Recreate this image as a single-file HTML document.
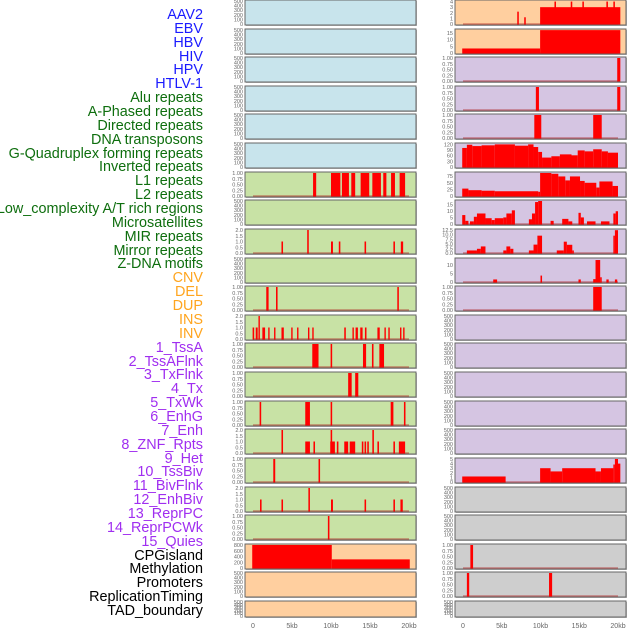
<!DOCTYPE html>
<html><head><meta charset="utf-8">
<style>
html,body{margin:0;padding:0;background:#fff;}
#wrap{position:relative;width:630px;height:630px;overflow:hidden;font-family:"Liberation Sans",sans-serif;}
.lbl{position:absolute;right:427px;font-size:14.4px;line-height:14px;white-space:nowrap;}
svg{position:absolute;left:0;top:0;}
</style></head>
<body>
<div id="wrap">
<svg id="chart" width="630" height="630"></svg>
</div>
<script>
// ---- data ----
const labelNames = ["AAV2","EBV","HBV","HIV","HPV","HTLV-1","Alu repeats","A-Phased repeats","Directed repeats","DNA transposons","G-Quadruplex forming repeats","Inverted repeats","L1 repeats","L2 repeats","Low_complexity A/T rich regions","Microsatellites","MIR repeats","Mirror repeats","Z-DNA motifs","CNV","DEL","DUP","INS","INV","1_TssA","2_TssAFlnk","3_TxFlnk","4_Tx","5_TxWk","6_EnhG","7_Enh","8_ZNF_Rpts","9_Het","10_TssBiv","11_BivFlnk","12_EnhBiv","13_ReprPC","14_ReprPCWk","15_Quies","CPGisland","Methylation","Promoters","ReplicationTiming","TAD_boundary"];
const labelColors = ["#1a1aff","#1a1aff","#1a1aff","#1a1aff","#1a1aff","#1a1aff","#0e6e0e","#0e6e0e","#0e6e0e","#0e6e0e","#0e6e0e","#0e6e0e","#0e6e0e","#0e6e0e","#0e6e0e","#0e6e0e","#0e6e0e","#0e6e0e","#0e6e0e","#ffa51f","#ffa51f","#ffa51f","#ffa51f","#ffa51f","#a02ef0","#a02ef0","#a02ef0","#a02ef0","#a02ef0","#a02ef0","#a02ef0","#a02ef0","#a02ef0","#a02ef0","#a02ef0","#a02ef0","#a02ef0","#a02ef0","#a02ef0","#000","#000","#000","#000","#000"];
const xTicks = [0,5,10,15,20];
const xTickLabels = ["0","5kb","10kb","15kb","20kb"];

const T500 = ["0","100","200","300","400","500"];
const T1 = ["0.00","0.25","0.50","0.75","1.00"];
const T2 = ["0.0","0.5","1.0","1.5","2.0"];

// bars: [startKb, endKb, value]
const L6 = [[7.7,8.1,1],[10.0,11.2,1],[11.4,12.3,1],[12.6,13.1,1],[13.8,14.9,1],[15.3,16.4,1],[16.7,17.1,1],[17.7,18.2,1],[18.8,19.5,1]];
const L8 = [[3.65,3.85,1],[6.95,7.15,2],[10.0,10.25,1],[11.0,11.2,1],[14.3,14.5,1],[18.0,18.2,1],[18.95,19.25,1]];
const L10 = [[1.7,2.0,1],[2.95,3.15,1],[18.5,18.7,1]];
const L11 = [[-0.05,0.15,1],[0.35,0.6,1],[0.7,0.85,2],[1.2,1.55,1],[1.95,2.1,1],[2.7,2.85,1],[3.65,3.95,1],[4.9,5.05,1],[5.65,5.8,1],[7.05,7.2,1],[7.6,7.75,1],[11.7,11.9,1],[12.75,12.9,1],[13.15,13.45,1],[13.75,14.05,1],[14.35,14.55,1],[15.95,16.25,1],[16.85,17.0,1],[17.35,17.5,1],[18.85,19.0,1],[19.25,19.4,1]];
const L12 = [[7.6,8.4,1],[9.95,10.15,1],[14.1,14.5,1],[15.25,15.45,1],[16.2,16.8,1]];
const L13 = [[12.2,12.65,1],[13.1,13.5,1]];
const L14 = [[0.85,1.05,1],[6.7,7.3,1],[9.95,10.15,1],[17.65,18.0,1],[19.35,19.55,1]];
const L15 = [[3.65,3.85,2],[6.7,7.3,1],[7.75,7.95,1],[9.9,10.5,1],[9.95,10.15,2],[10.75,10.95,1],[11.7,12.2,1],[12.4,13.1,1],[13.95,14.15,1],[14.3,14.5,1],[14.65,14.85,1],[15.3,15.5,2],[15.95,16.15,1],[18.0,18.2,1],[18.7,19.5,1]];
const L16 = [[2.6,2.85,1],[8.4,8.6,1]];
const L17 = [[0.9,1.1,1],[3.65,3.85,1],[7.1,7.3,2],[10.0,10.25,1],[14.3,14.5,1],[18.0,18.2,1],[18.9,19.2,1]];
const L18 = [[9.6,9.8,1]];
const L19 = [[-0.1,10.1,800],[10.1,20.1,300]];

const R0 = [[7.0,7.2,2.2],[7.9,8.1,1.2],[9.95,20.3,3],[11.8,12.0,4],[13.9,14.1,4],[15.4,15.6,4],[18.5,18.7,4],[19.4,19.6,4]];
const R1 = [[-0.1,9.95,3.4],[9.95,20.3,17.2]];
const R2 = [[19.9,20.3,1]];
const R3 = [[9.4,9.8,1],[19.9,20.3,1]];
const R4 = [[9.2,10.1,1],[16.8,17.9,1]];
const R5 = [[-0.1,0.5,101],[0.5,1.2,118],[1.2,2.4,111],[2.4,4.1,115],[4.1,6.7,120],[6.7,8.4,113],[8.4,9.1,120],[9.1,9.7,106],[9.7,10.2,80],[10.2,11.4,50],[11.4,12.5,57],[12.5,14.0,67],[14.0,14.8,62],[14.8,15.7,88],[15.7,16.8,83],[16.8,17.9,94],[17.9,18.7,83],[18.7,20.0,76]];
const R6 = [[-0.1,0.7,28],[0.7,2.4,22],[2.4,4.1,20],[4.1,9.7,18],[9.7,9.95,16],[9.95,11.4,87],[11.4,12.3,84],[12.3,13.2,74],[13.2,13.8,59],[13.8,15.1,74],[15.1,15.7,57],[15.7,17.2,50],[17.2,17.6,32],[17.6,19.3,55],[19.3,20.0,38]];
const R7 = [[-0.1,0.3,6.8],[0.3,0.7,2.4],[0.9,1.4,2],[1.4,1.8,5.5],[1.8,2.9,8],[2.9,3.7,4.4],[3.7,4.1,3],[4.1,5.2,4.4],[5.2,5.6,5],[5.6,6.3,8],[6.3,6.7,10.4],[8.5,8.9,3.6],[8.9,9.3,8],[9.3,9.7,16.7],[9.7,10.2,17.7],[11.3,11.7,2.4],[12.8,13.6,3.9],[13.6,14.1,2],[14.9,15.2,8.5],[15.2,15.6,5],[16.0,17.1,2],[17.8,18.9,2],[19.4,19.7,8],[19.7,20.0,9.7]];
const R8 = [[0.5,1.8,1.4],[1.8,2.3,2.3],[2.3,2.9,3.6],[5.2,5.6,1.4],[5.6,6.1,3.6],[6.1,6.5,2.3],[8.5,9.1,1.4],[9.1,9.6,4.6],[9.6,10.2,9.5],[12.1,13.0,1.4],[13.0,13.4,6.2],[13.4,14.1,4.5],[14.1,14.3,1.4],[19.4,19.6,9.5],[19.6,20.0,12.5]];
const R9 = [[3.9,4.4,1.5],[10.0,10.2,3.8],[14.9,15.2,1.5],[16.8,17.1,1.7],[17.1,17.7,13],[17.7,17.9,2.8],[18.5,18.8,1.5],[19.6,19.9,1.5]];
const R10 = [[16.8,17.9,1]];
const R16 = [[-0.1,5.5,1.2],[9.95,11.3,3],[11.3,12.8,2.3],[12.8,17.1,3],[17.1,17.8,2.3],[17.8,19.4,3],[19.4,19.6,3.8],[19.6,20.0,5],[19.95,20.3,4]];
const R19 = [[0.95,1.3,1]];
const R20 = [[0.5,0.8,1],[11.1,11.5,1]];

const leftColors = ["#c8e4ec","#c8e4ec","#c8e4ec","#c8e4ec","#c8e4ec","#c8e4ec","#c8e2a5","#c8e2a5","#c8e2a5","#c8e2a5","#c8e2a5","#c8e2a5","#c8e2a5","#c8e2a5","#c8e2a5","#c8e2a5","#c8e2a5","#c8e2a5","#c8e2a5","#ffcf9f","#ffcf9f","#ffcf9f"];
const rightColors = ["#ffcf9f","#ffcf9f","#d5c5e2","#d5c5e2","#d5c5e2","#d5c5e2","#d5c5e2","#d5c5e2","#d5c5e2","#d5c5e2","#d5c5e2","#d5c5e2","#d5c5e2","#d5c5e2","#d5c5e2","#d5c5e2","#d5c5e2","#cecece","#cecece","#cecece","#cecece","#cecece"];
const leftBars = [null,null,null,null,null,null,L6,null,L8,null,L10,L11,L12,L13,L14,L15,L16,L17,L18,L19,null,null];
const leftMax = [500,500,500,500,500,500,1,500,2,500,1,2,1,1,1,2,1,2,1,800,500,500];
const leftTicks = [T500,T500,T500,T500,T500,T500,T1,T500,T2,T500,T1,T2,T1,T1,T1,T2,T1,T2,T1,["0","200","400","600","800"],T500,T500];
const rightBars = [R0,R1,R2,R3,R4,R5,R6,R7,R8,R9,R10,null,null,null,null,null,R16,null,null,R19,R20,null];
const rightMax = [4.1,17.3,1,1,1,122,87,17.5,12.6,13.6,1,500,500,500,500,500,5,500,500,1,1,500];
const rightTicks = [["0","1","2","3","4"],["0","5","10","15"],T1,T1,T1,["0","30","60","90","120"],["0","25","50","75"],["0","5","10","15"],["0.0","2.5","5.0","7.5","10.0","12.5"],["0","5","10"],T1,T500,T500,T500,T500,T500,["0","1","2","3","4","5"],T500,T500,T1,T1,T500];

// ---- drawing ----
const NS = "http://www.w3.org/2000/svg";
const svg = document.getElementById("chart");
const wrap = document.getElementById("wrap");
function mk(tag, attrs, parent){const e=document.createElementNS(NS,tag);for(const k in attrs)e.setAttribute(k,attrs[k]);(parent||svg).appendChild(e);return e;}

labelNames.forEach((t,i)=>{
  const d=document.createElement("div");
  d.className="lbl";
  d.style.top=(8+13.86*i)+"px";
  d.style.color=labelColors[i];
  d.textContent=t;
  
  
  wrap.appendChild(d);
});

function rowTop(r){return Math.round(28.62*r);}
function rowH(r){return r===21?16:25;}

function drawPanel(side, r, bg, bars, ymax, ticks){
  const bx = side===0?245:455, bw=171;
  const x0 = side===0?253:463, pxkb = side===0?7.8:7.75;
  const top=rowTop(r), h=rowH(r);
  const xs = kb=>x0+kb*pxkb;
  const ybot=top+h-1, ytop=top+1;
  const ys = v=>ybot-(v/ymax)*(ybot-ytop);
  const g=mk("g",{});
  
  
  const sh=mk("rect",{x:bx+1,y:top+1,width:bw,height:h,fill:"#bbb"},g);
  
  
  const bgr=mk("rect",{x:bx,y:top,width:bw,height:h,fill:bg,stroke:"#666","stroke-width":1},g);
  
  
  ticks.forEach((t,i)=>{
    const v = parseFloat(t);
    const y = ys(v);
    const tx=mk("text",{x:bx-2,y:y+2,"font-size":5.5,"text-anchor":"end",fill:"#666","font-family":"Liberation Sans, sans-serif"},g);
    tx.textContent=t;
    
    
  });
  if(bars){
    if(!(side===0 && r===19)){
      const bl=mk("line",{x1:xs(0),x2:xs(20),y1:ybot,y2:ybot,stroke:"rgba(170,20,20,0.45)","stroke-width":1.6},g);
      
      
    }
    bars.forEach(b=>{
      const x1=xs(b[0]), x2=xs(b[1]);
      const w=Math.max(1.4,x2-x1);
      const y=ys(Math.min(b[2],ymax));
      const br=mk("rect",{x:x1,y:y,width:w,height:ybot-y+0.5,fill:"#ff0000"},g);
      
      
    });
  }
}
for(let r=0;r<22;r++){
  drawPanel(0,r,leftColors[r],leftBars[r],leftMax[r],leftTicks[r]);
  drawPanel(1,r,rightColors[r],rightBars[r],rightMax[r],rightTicks[r]);
}
[0,1].forEach(side=>{
  const x0 = side===0?253:463, pxkb = side===0?7.8:7.75;
  xTicks.forEach((k,i)=>{
    const t=mk("text",{x:x0+k*pxkb,y:628,"font-size":7,"text-anchor":"middle",fill:"#666","font-family":"Liberation Sans, sans-serif"});
    t.textContent=xTickLabels[i];
    
    
  });
});
</script>
</body></html>
